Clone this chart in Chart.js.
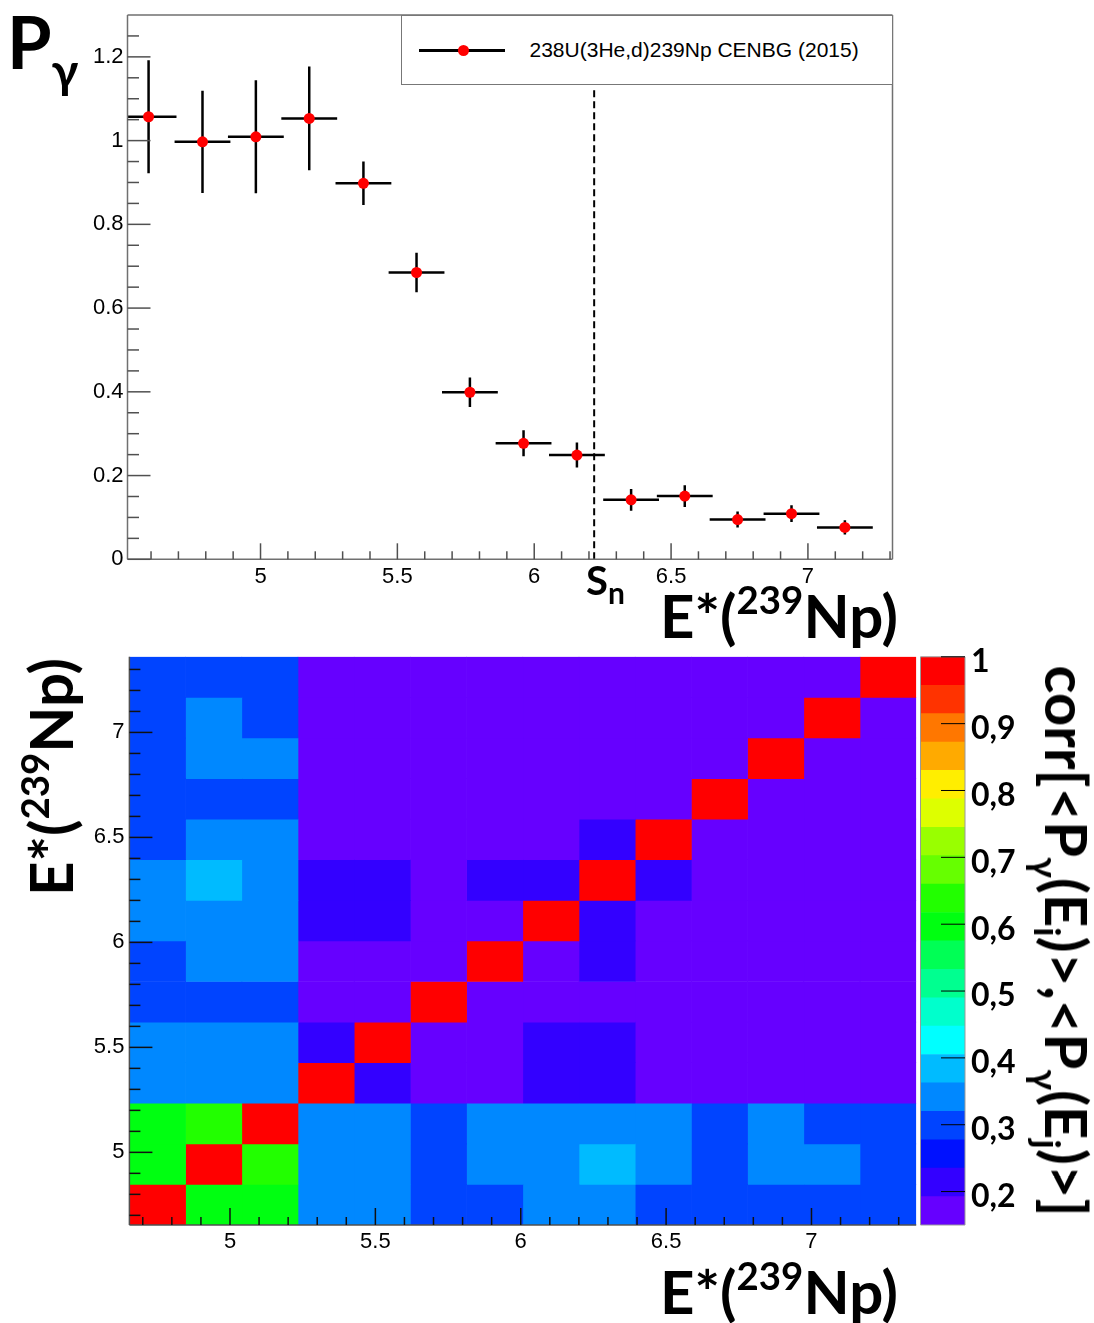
<!DOCTYPE html>
<html>
<head>
<meta charset="utf-8">
<title>P gamma and correlation matrix, 239Np</title>
<script src="https://cdn.jsdelivr.net/npm/chart.js@4.4.1/dist/chart.umd.min.js"></script>
<style>
  html, body { margin: 0; padding: 0; background: #fff; }
  body { position: relative; width: 1094px; height: 1323px; overflow: hidden; }
  canvas { position: absolute; }
  .bold { position: absolute; font-family: Lato, "DejaVu Sans", sans-serif; font-weight: 700;
          color: #000; line-height: 1; white-space: nowrap; }
  .sup { position: relative; top: -0.63em; font-size: 0.64em; }
  .sub { position: relative; font-size: 0.64em; }
  .rotL { transform: translate(-50%, -50%) rotate(-90deg); }
  .rotR { transform: translate(-50%, -50%) rotate(90deg); }
  #legend { position: absolute; left: 400.5px; top: 15px; width: 492px; height: 70px;
            box-sizing: border-box; border: 1.5px solid #777; background: #fff; }
  #legLine { position: absolute; left: 17px; top: 33px; width: 86px; height: 3px; background: #000; }
  #legDot { position: absolute; left: 56px; top: 29px; width: 11px; height: 11px; border-radius: 50%; background: #ff0000; }
  #legText { position: absolute; left: 128px; top: 22px; font: 21px "Liberation Sans", Arial, sans-serif;
             line-height: 24px; color: #000; white-space: nowrap; }
</style>
</head>
<body>
<canvas id="topChart" width="1094" height="640" style="left:0;top:0"></canvas>
<canvas id="heatChart" width="1094" height="683" style="left:0;top:640px"></canvas>
<canvas id="barChart" width="194" height="683" style="left:900px;top:640px"></canvas>

<div id="legend">
  <div id="legLine"></div><div id="legDot"></div>
  <div id="legText">238U(3He,d)239Np CENBG (2015)</div>
</div>

<div class="bold" id="pTitle" style="left:7px;top:5px;font-size:72px">P<span class="sub" style="top:19px;font-size:48px">γ</span></div>
<div class="bold" id="snLabel" style="left:586px;top:560px;font-size:40px">S<span class="sub" style="top:9px;font-size:30px">n</span></div>
<div class="bold" id="eTop" style="right:196px;top:585px;font-size:60px">E*(<span class="sup">239</span>Np)</div>
<div class="bold" id="eBottom" style="right:196px;top:1261px;font-size:60px">E*(<span class="sup">239</span>Np)</div>
<div class="bold rotL" id="eLeft" style="left:50px;top:777px;font-size:60px">E*(<span class="sup">239</span>Np)</div>
<div class="bold rotR" id="zTitle" style="left:1067px;top:941px;font-size:58px">corr[&lt;P<span class="sub" style="top:0.35em">γ</span>(E<span class="sub" style="top:0.3em">i</span>)&gt;,&lt;P<span class="sub" style="top:0.35em">γ</span>(E<span class="sub" style="top:0.3em">j</span>)&gt;]</div>

<script>
// top panel : gamma-decay probability vs excitation energy
var energy    = [4.591, 4.788, 4.983, 5.178, 5.376, 5.570, 5.765, 5.961, 6.156, 6.354, 6.550, 6.743, 6.940, 7.135];
var energyErr = [0.102, 0.102, 0.102, 0.102, 0.102, 0.102, 0.102, 0.102, 0.102, 0.102, 0.102, 0.102, 0.102, 0.102];
var pGamma    = [1.057, 0.997, 1.009, 1.053, 0.898, 0.685, 0.399, 0.277, 0.249, 0.142, 0.151, 0.095, 0.109, 0.076];
var pGammaErr = [0.135, 0.122, 0.135, 0.124, 0.052, 0.047, 0.035, 0.031, 0.030, 0.026, 0.026, 0.019, 0.020, 0.017];
var snEnergy = 6.219;

var topXTicks = [5, 5.5, 6, 6.5, 7];
var topYTicks = [0, 0.2, 0.4, 0.6, 0.8, 1, 1.2];

// bottom panel : correlation matrix, row 0 = lowest energy bin
var binLow = 4.654;
var binWidth = 0.1933;
var corr = [
  [1.00, 0.60, 0.60, 0.34, 0.34, 0.30, 0.30, 0.34, 0.34, 0.30, 0.30, 0.30, 0.30, 0.30],
  [0.60, 1.00, 0.64, 0.34, 0.34, 0.30, 0.34, 0.34, 0.38, 0.34, 0.30, 0.34, 0.34, 0.30],
  [0.60, 0.64, 1.00, 0.34, 0.34, 0.30, 0.34, 0.34, 0.34, 0.34, 0.30, 0.34, 0.30, 0.30],
  [0.34, 0.34, 0.34, 1.00, 0.21, 0.17, 0.17, 0.21, 0.21, 0.17, 0.17, 0.17, 0.17, 0.17],
  [0.34, 0.34, 0.34, 0.21, 1.00, 0.17, 0.17, 0.21, 0.21, 0.17, 0.17, 0.17, 0.17, 0.17],
  [0.30, 0.30, 0.30, 0.17, 0.17, 1.00, 0.17, 0.17, 0.17, 0.17, 0.17, 0.17, 0.17, 0.17],
  [0.30, 0.34, 0.34, 0.17, 0.17, 0.17, 1.00, 0.17, 0.21, 0.17, 0.17, 0.17, 0.17, 0.17],
  [0.34, 0.34, 0.34, 0.21, 0.21, 0.17, 0.17, 1.00, 0.21, 0.17, 0.17, 0.17, 0.17, 0.17],
  [0.34, 0.38, 0.34, 0.21, 0.21, 0.17, 0.21, 0.21, 1.00, 0.21, 0.17, 0.17, 0.17, 0.17],
  [0.30, 0.34, 0.34, 0.17, 0.17, 0.17, 0.17, 0.17, 0.21, 1.00, 0.17, 0.17, 0.17, 0.17],
  [0.30, 0.30, 0.30, 0.17, 0.17, 0.17, 0.17, 0.17, 0.17, 0.17, 1.00, 0.17, 0.17, 0.17],
  [0.30, 0.34, 0.34, 0.17, 0.17, 0.17, 0.17, 0.17, 0.17, 0.17, 0.17, 1.00, 0.17, 0.17],
  [0.30, 0.34, 0.30, 0.17, 0.17, 0.17, 0.17, 0.17, 0.17, 0.17, 0.17, 0.17, 1.00, 0.17],
  [0.30, 0.30, 0.30, 0.17, 0.17, 0.17, 0.17, 0.17, 0.17, 0.17, 0.17, 0.17, 0.17, 1.00]
];
var heatTicks = [5, 5.5, 6, 6.5, 7];

// colour scale
var zMin = 0.15, zMax = 1;
var zTicks = [0.2, 0.3, 0.4, 0.5, 0.6, 0.7, 0.8, 0.9, 1];
var palette = ['#6600ff', '#3300ff', '#0011ff', '#0044ff', '#0088ff', '#00bbff', '#00ffff',
               '#00ffcc', '#00ff90', '#00ff55', '#00ff11', '#22ff00', '#66ff00', '#99ff00',
               '#ddff00', '#ffee00', '#ffaa00', '#ff7700', '#ff3300', '#ff0000'];

function steps(from, to, step) {
  var out = [];
  for (var v = from; v <= to + 1e-9; v += step) out.push(Math.round(v * 1000) / 1000);
  return out;
}
function minorOf(all, major) {
  return all.filter(function (v) { return major.indexOf(v) < 0; });
}
function colorFor(v) {
  var k = Math.floor((v - zMin) / (zMax - zMin) * palette.length);
  return palette[Math.max(0, Math.min(palette.length - 1, k))];
}

// ticks drawn inside the frame, ROOT style
function innerTicks(list) {
  return {
    id: 'innerTicks',
    afterDatasetsDraw: function (chart) {
      var ctx = chart.ctx, a = chart.chartArea;
      ctx.save();
      list.forEach(function (t) {
        var s = chart.scales[t.scale];
        ctx.strokeStyle = t.color;
        ctx.lineWidth = t.width;
        t.values.forEach(function (v) {
          var p = s.getPixelForValue(v);
          ctx.beginPath();
          if (t.side == 'bottom') { ctx.moveTo(p, a.bottom); ctx.lineTo(p, a.bottom - t.len); }
          if (t.side == 'left') { ctx.moveTo(a.left, p); ctx.lineTo(a.left + t.len, p); }
          if (t.side == 'right') { ctx.moveTo(a.right, p); ctx.lineTo(a.right - t.len, p); }
          ctx.stroke();
        });
      });
      ctx.restore();
    }
  };
}
function frame(color, width, sides) {
  return {
    id: 'frame',
    afterDatasetsDraw: function (chart) {
      var ctx = chart.ctx, a = chart.chartArea;
      ctx.save();
      ctx.strokeStyle = color;
      ctx.lineWidth = width;
      ctx.beginPath();
      if (sides.indexOf('l') >= 0) { ctx.moveTo(a.left, a.top); ctx.lineTo(a.left, a.bottom); }
      if (sides.indexOf('b') >= 0) { ctx.moveTo(a.left, a.bottom); ctx.lineTo(a.right, a.bottom); }
      if (sides.indexOf('r') >= 0) { ctx.moveTo(a.right, a.top); ctx.lineTo(a.right, a.bottom); }
      if (sides.indexOf('t') >= 0) { ctx.moveTo(a.left, a.top); ctx.lineTo(a.right, a.top); }
      ctx.stroke();
      ctx.restore();
    }
  };
}
function fixSize(w, h) {
  return function (s) {
    if (w != null) s.width = w;
    if (h != null) s.height = h;
    s.paddingTop = s.paddingBottom = s.paddingLeft = s.paddingRight = 0;
  };
}
function setTicks(list) {
  return function (s) { s.ticks = list.map(function (v) { return {value: v}; }); };
}
function numLabel(v) { return String(Math.round(v * 10) / 10); }

var tickFont = {family: 'Liberation Sans', size: 22, lineHeight: 1.2};

/* top chart */

var points = [], hBars = [], vBars = [];
for (var i = 0; i < energy.length; i++) {
  points.push({x: energy[i], y: pGamma[i]});
  hBars.push({x: energy[i] - energyErr[i], y: pGamma[i]}, {x: energy[i] + energyErr[i], y: pGamma[i]}, {x: energy[i], y: null});
  vBars.push({x: energy[i], y: pGamma[i] - pGammaErr[i]}, {x: energy[i], y: pGamma[i] + pGammaErr[i]}, {x: energy[i], y: null});
}

var topChart = new Chart(document.getElementById('topChart'), {
  type: 'scatter',
  data: {
    datasets: [
      { label: '238U(3He,d)239Np CENBG (2015)', data: points, order: 0,
        pointRadius: 5.5, pointBackgroundColor: '#ff0000', pointBorderWidth: 0, showLine: false },
      { data: hBars, order: 1, showLine: true, borderColor: '#000', borderWidth: 2.5, pointRadius: 0 },
      { data: vBars, order: 1, showLine: true, borderColor: '#000', borderWidth: 2.5, pointRadius: 0 },
      { data: [{x: snEnergy, y: 0}, {x: snEnergy, y: 1.125}], order: 2, showLine: true,
        borderColor: '#000', borderWidth: 2, borderDash: [7, 4], pointRadius: 0 }
    ]
  },
  options: {
    responsive: false, animation: false, devicePixelRatio: 1, events: [],
    layout: { padding: {left: 0, top: 15, right: 201.5, bottom: 0} },
    plugins: { legend: {display: false}, tooltip: {enabled: false} },
    scales: {
      x: {
        type: 'linear', min: 4.514, max: 7.309,
        grid: {display: false, drawTicks: false}, border: {display: false},
        ticks: {font: tickFont, color: '#000', padding: 4, maxRotation: 0, callback: numLabel},
        afterBuildTicks: setTicks(topXTicks), afterFit: fixSize(null, 80.7)
      },
      y: {
        type: 'linear', min: 0, max: 1.3,
        grid: {display: false, drawTicks: false}, border: {display: false},
        ticks: {font: tickFont, color: '#000', padding: 4, callback: numLabel},
        afterBuildTicks: setTicks(topYTicks), afterFit: fixSize(127.5, null)
      }
    }
  },
  plugins: [
    frame('#707070', 1.5, 'lbrt'),
    innerTicks([
      {scale: 'y', side: 'left', values: topYTicks, len: 23, color: '#505050', width: 1.5},
      {scale: 'y', side: 'left', values: minorOf(steps(0.05, 1.25, 0.05), topYTicks), len: 11.5, color: '#505050', width: 1.5},
      {scale: 'x', side: 'bottom', values: topXTicks, len: 16, color: '#505050', width: 1.5},
      {scale: 'x', side: 'bottom', values: minorOf(steps(4.6, 7.3, 0.1), topXTicks), len: 8, color: '#505050', width: 1.5}
    ])
  ]
});

/* correlation matrix as floating bars, one dataset per column */

var binCenters = corr.map(function (row, r) { return binLow + (r + 0.5) * binWidth; });
var binHigh = binLow + corr.length * binWidth;
var columns = [];
for (var c = 0; c < corr.length; c++) {
  columns.push({
    data: binCenters.map(function (yc) { return {y: yc, x: [binLow + c * binWidth, binLow + (c + 1) * binWidth]}; }),
    backgroundColor: corr.map(function (row) { return colorFor(row[c]); }),
    borderWidth: 0, grouped: false, barPercentage: 1, categoryPercentage: 1
  });
}

var heatChart = new Chart(document.getElementById('heatChart'), {
  type: 'bar',
  data: { datasets: columns },
  options: {
    indexAxis: 'y',
    responsive: false, animation: false, devicePixelRatio: 1, events: [],
    layout: { padding: {left: 0, top: 16.8, right: 177.8, bottom: 0} },
    plugins: { legend: {display: false}, tooltip: {enabled: false} },
    scales: {
      x: {
        type: 'linear', min: binLow, max: binHigh, offset: false,
        grid: {display: false, drawTicks: false, offset: false}, border: {display: false},
        ticks: {font: tickFont, color: '#000', padding: 4, maxRotation: 0, callback: numLabel},
        afterBuildTicks: setTicks(heatTicks), afterFit: fixSize(null, 98)
      },
      y: {
        type: 'linear', min: binLow, max: binHigh, offset: false,
        grid: {display: false, drawTicks: false, offset: false}, border: {display: false},
        ticks: {font: tickFont, color: '#000', padding: 5, callback: numLabel},
        afterBuildTicks: setTicks(heatTicks), afterFit: fixSize(129.4, null)
      }
    }
  },
  plugins: [
    frame('#505050', 1.5, 'lb'),
    innerTicks([
      {scale: 'y', side: 'left', values: heatTicks, len: 23, color: '#111', width: 1.5},
      {scale: 'y', side: 'left', values: minorOf(steps(4.7, 7.3, 0.1), heatTicks), len: 11, color: '#111', width: 1.5},
      {scale: 'x', side: 'bottom', values: heatTicks, len: 17, color: '#111', width: 1.5},
      {scale: 'x', side: 'bottom', values: minorOf(steps(4.7, 7.3, 0.1), heatTicks), len: 8, color: '#111', width: 1.5}
    ])
  ]
});

/* colour bar */

var bands = palette.map(function (col, k) {
  var step = (zMax - zMin) / palette.length;
  return { data: [[zMin + k * step, zMin + (k + 1) * step]], backgroundColor: col,
           borderWidth: 0, grouped: false, barPercentage: 1, categoryPercentage: 1 };
});

var barChart = new Chart(document.getElementById('barChart'), {
  type: 'bar',
  data: { labels: [''], datasets: bands },
  options: {
    responsive: false, animation: false, devicePixelRatio: 1, events: [],
    layout: { padding: {left: 20.5, top: 16.8, right: 0, bottom: 98} },
    plugins: { legend: {display: false}, tooltip: {enabled: false} },
    scales: {
      x: { display: false },
      y: {
        type: 'linear', position: 'right', min: zMin, max: zMax,
        grid: {display: false, drawTicks: false}, border: {display: false},
        ticks: {
          font: {family: 'Lato', weight: 'bold', size: 32, lineHeight: 1}, color: '#000', padding: 6, labelOffset: 5,
          callback: function (v) { return v >= 1 ? '1' : v.toFixed(1).replace('.', ','); }
        },
        afterBuildTicks: setTicks(zTicks), afterFit: fixSize(129, null)
      }
    }
  },
  plugins: [
    frame('#999', 1, 'lbrt'),
    innerTicks([{scale: 'y', side: 'right', values: zTicks, len: 24, color: '#000', width: 1}])
  ]
});
</script>
</body>
</html>
